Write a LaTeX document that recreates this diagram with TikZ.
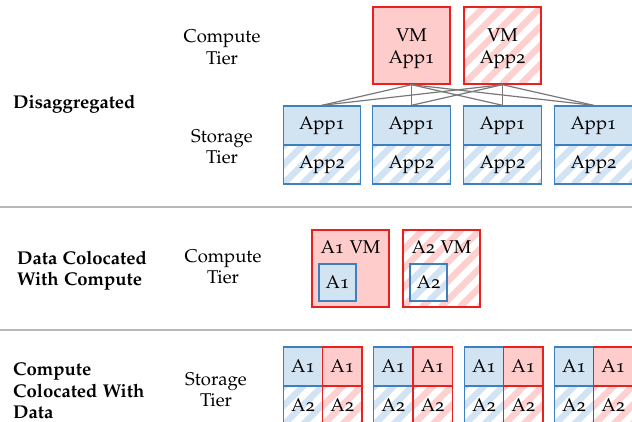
\documentclass[tikz,border=0pt]{standalone}
\usepackage[T1]{fontenc}
\usepackage[osf]{mathpazo}
\definecolor{rb}{RGB}{232,32,30}
\definecolor{rf}{RGB}{255,204,204}
\definecolor{rs}{RGB}{255,208,208}
\definecolor{bb}{RGB}{60,128,192}
\definecolor{bf}{RGB}{210,227,242}
\definecolor{bs}{RGB}{210,227,243}
\definecolor{conncol}{RGB}{120,120,120}
\definecolor{sepcol}{RGB}{185,185,185}
\tikzset{
  txt/.style={font=\fontsize{18.5}{21.5}\selectfont, inner sep=0pt, align=center},
  lbl/.style={font=\fontsize{18.5}{21.5}\selectfont\bfseries, inner sep=0pt, align=left, anchor=west},
  hatch/.style={fill=white, path picture={\foreach \k in {-7,...,7}{\draw[line width=6.5pt, #1] ([xshift=\k*19pt]path picture bounding box.south west) -- ++(130pt,130pt);}}},
  cell/.style={txt, line width=1.4pt},
  redfull/.style={cell, draw=rb, fill=rf},
  redhatch/.style={cell, draw=rb, hatch=rs},
  bluefull/.style={cell, draw=bb, fill=bf},
  bluehatch/.style={cell, draw=bb, hatch=bs},
  big/.style={minimum width=77pt, minimum height=77pt},
  stor/.style={minimum width=77.5pt, minimum height=39pt},
  small/.style={minimum width=37pt, minimum height=37pt},
  sq/.style={minimum width=39.3pt, minimum height=39pt},
  conn/.style={draw=conncol, line width=1.2pt},
  sep/.style={draw=sepcol, line width=1.5pt},
}
\begin{document}
\begin{tikzpicture}[x=1pt,y=-1pt]
\useasboundingbox (0,0) rectangle (632,421);
% separators
\coordinate (s1l) at (0,207); \coordinate (s1r) at (632,207);
\coordinate (s2l) at (0,330); \coordinate (s2r) at (632,330);
\draw[sep] (s1l) -- (s1r);
\draw[sep] (s2l) -- (s2r);
% row labels
\node[lbl] (l1) at (13,104) {Disaggregated};
\node[lbl] (l2) at (17,271) {Data Colocated\\With Compute};
\node[lbl] (l3) at (13,391) {Compute\\Colocated With\\Data};
\node[txt] (t1) at (222,47.5) {Compute\\Tier};
\node[txt] (t2) at (222,147) {Storage\\Tier};
\node[txt] (t3) at (223,267) {Compute\\Tier};
\node[txt] (t4) at (216,390) {Storage\\Tier};
% top: compute
\node[redfull, big] (vm1) at (411.5,45.5) {};
\node[txt] (vm1t) at (411.5,48.5) {VM\\App1};
\node[redhatch, big] (vm2) at (502.5,45.5) {};
\node[txt] (vm2t) at (502.5,48.5) {VM\\App2};
% storage
\foreach \n/\x in {1/322,2/411.5,3/502.5,4/593.5}{
  \node[bluefull, stor] (st\n a) at (\x,125.5) {App1};
  \node[bluehatch, stor] (st\n b) at (\x,164.5) {App2};
}
\foreach \n in {1,2,3,4}{
  \draw[conn] (vm1.south) -- (st\n a.north);
  \draw[conn] (vm2.south) -- (st\n a.north);
}
% middle
\node[redfull, big] (c1) at (350.5,268.5) {};
\node[txt] (c1t) at (350.5,247) {A1 VM};
\node[bluefull, small] (c1i) at (337.5,282.5) {A1};
\node[redhatch, big] (c2) at (441.5,268.5) {};
\node[txt] (c2t) at (441.5,247) {A2 VM};
\node[bluehatch, small] (c2i) at (428.5,282.5) {A2};
% bottom
\foreach \n/\x in {1/303,2/393.3,3/484,4/574}{
  \node[bluefull, sq] (g\n a) at (\x,366.5) {A1};
  \node[bluehatch, sq] (g\n b) at (\x,405.5) {A2};
  \node[redfull, sq] (h\n a) at (\x+39.3,366.5) {A1};
  \node[redhatch, sq] (h\n b) at (\x+39.3,405.5) {A2};
}
\end{tikzpicture}
\end{document}
